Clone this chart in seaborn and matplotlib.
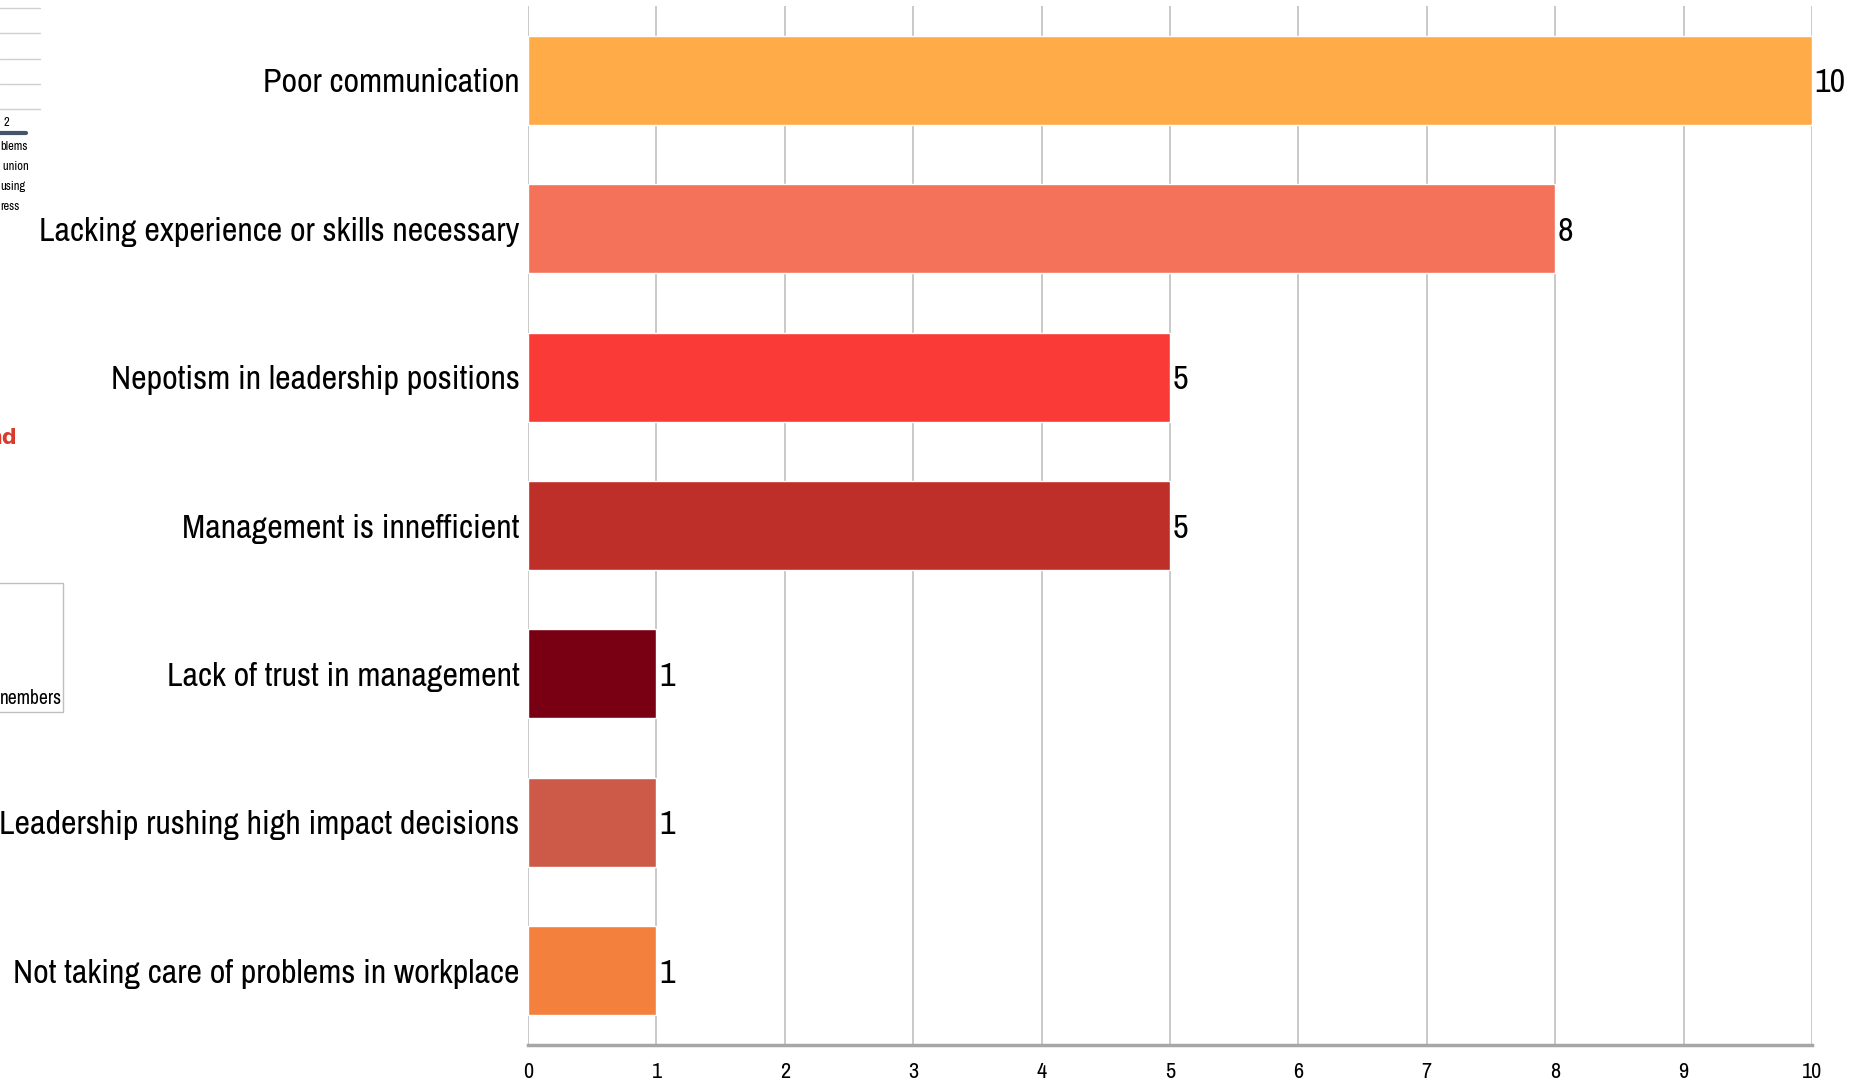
import matplotlib
matplotlib.use('Agg')
import matplotlib.pyplot as plt
import seaborn as sns
import pandas as pd

reasons = ['Poor communication',
           'Lacking experience or skills necessary',
           'Nepotism in leadership positions',
           'Management is innefficient',
           'Lack of trust in management',
           'Leadership rushing high impact decisions',
           'Not taking care of problems in workplace']
counts = [10, 8, 5, 5, 1, 1, 1]
bar_colors = ['#FFAB47', '#F4725A', '#FA3A37', '#BE2F2A', '#780012', '#CD5A48', '#F4803E']
x_ticks = list(range(0, 11))

sns.set_style('white')
plt.rcParams['font.family'] = ['Archivo Narrow', 'DejaVu Sans']
plt.rcParams['text.color'] = 'black'
plt.rcParams['xtick.color'] = 'black'
plt.rcParams['ytick.color'] = 'black'

df = pd.DataFrame({'reason': reasons, 'count': counts})

fig = plt.figure(figsize=(18.66, 10.81), dpi=100)
ax = fig.add_axes([0.283, 0.0333, 0.688, 0.9611])

sns.barplot(data=df, y='reason', x='count', hue='reason', palette=bar_colors,
            orient='h', width=0.6, saturation=1, legend=False, ax=ax, zorder=3)

ax.set_xlim(0, 10)
ax.set_ylim(6.5, -0.5)
ax.set_xticks(x_ticks)
ax.set_xticklabels([str(t) for t in x_ticks], fontsize=16)
ax.set_xlabel('')
ax.set_ylabel('')
ax.tick_params(axis='y', length=0, labelsize=24.5, pad=6)
ax.tick_params(axis='x', length=6, color='#A6A6A6', width=1, pad=6)
ax.xaxis.grid(True, color='#C0C0C0', linewidth=1.2, zorder=0)
ax.yaxis.grid(False)
for s in ['top', 'right', 'left']:
    ax.spines[s].set_visible(False)
ax.spines['bottom'].set_color('#A6A6A6')
ax.spines['bottom'].set_linewidth(2.5)

for i, v in enumerate(counts):
    ax.text(v + 0.02, i, str(v), va='center_baseline', ha='left', fontsize=24.5)

# remnants of a neighbouring chart cut off at the left edge
for y in [8, 33, 59, 84, 109]:
    fig.add_artist(plt.Line2D([0, 40 / 1866], [1 - y / 1081, 1 - y / 1081],
                              color='#D0D0D0', linewidth=1))
fig.add_artist(plt.Line2D([0, 26 / 1866], [1 - 133 / 1081, 1 - 133 / 1081],
                          color='#44546A', linewidth=3))
fig.text(4 / 1866, 1 - 122 / 1081, '2', fontsize=9, va='center', ha='left')
for y, t in zip([147, 167, 187, 206], ['blems', ' union', 'using', 'ress']):
    fig.text(0, 1 - y / 1081, t, fontsize=9, va='center', ha='left')
fig.text(17 / 1866, 1 - 438 / 1081, 'nd', fontsize=15, color='#D93A2B',
         family='DejaVu Sans', fontweight='bold', va='center', ha='right')
fig.add_artist(plt.Rectangle((-0.01, 1 - 712 / 1081), 63 / 1866 + 0.01, 129 / 1081,
                             fill=False, edgecolor='#BFBFBF', linewidth=1))
fig.text(62 / 1866, 1 - 698 / 1081, 'nembers', fontsize=14, va='center', ha='right')

fig.savefig('out.png', dpi=100)
